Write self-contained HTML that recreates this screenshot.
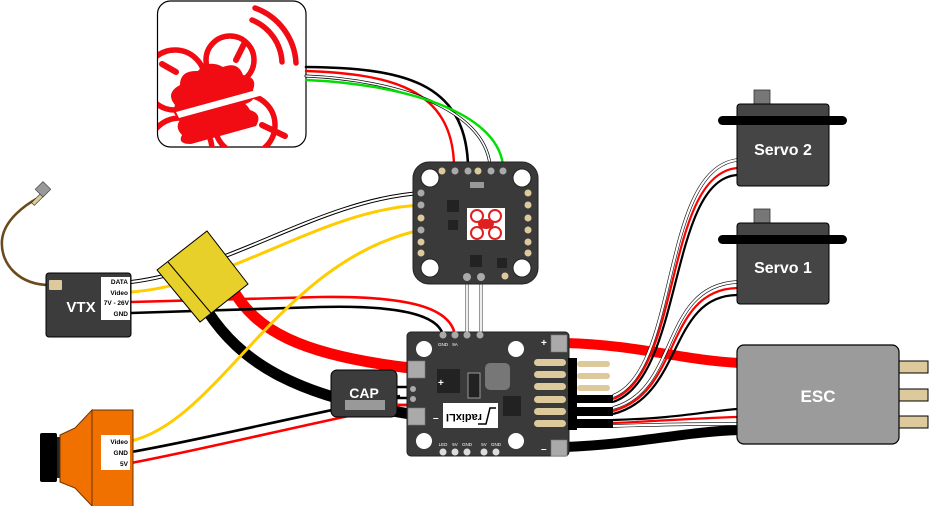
<!DOCTYPE html>
<html><head><meta charset="utf-8"><style>
html,body{margin:0;padding:0;background:#fff;}
svg{display:block;font-family:"Liberation Sans",sans-serif;}
</style></head><body>
<svg width="929" height="506" viewBox="0 0 929 506" xmlns="http://www.w3.org/2000/svg">
<defs>
<clipPath id="lc"><rect x="158" y="1" width="148" height="146" rx="12"/></clipPath>
</defs>
<rect width="929" height="506" fill="#fff"/>

<!-- Logo box -->
<rect x="157.5" y="1" width="148.5" height="146" rx="13" fill="#fff" stroke="#000" stroke-width="1.2"/>
<g clip-path="url(#lc)" fill="none" stroke="#f00c12" stroke-width="5.5" stroke-linecap="round">
  <path d="M255 8 A62 62 0 0 1 296 63"/>
  <path d="M252 20 A48 48 0 0 1 282 62"/>
  <circle cx="230" cy="60" r="24"/>
  <circle cx="175" cy="80" r="30"/>
  <circle cx="245" cy="125" r="30"/>
  <circle cx="180" cy="150" r="32"/>
  <path d="M245 42 L236 60 M176 72 L162 64 M262 125 L285 136" stroke-width="6"/>
</g>
<g clip-path="url(#lc)" fill="#f00c12">
  <path d="M175 105 q-10 -12 5 -20 q0 -15 18 -14 q10 -12 25 -4 q15 -6 20 8 q15 2 10 15 q5 10 -8 14 l-60 14 q-15 0 -10 -13z"/>
  <path d="M182 135 q-10 -10 3 -20 q3 -12 18 -10 q10 -10 25 -3 q15 -5 22 8 q13 4 6 16 l-65 18 q-14 0 -9 -9z"/>
  <path d="M176 112 l95 -26 l3 6 l-95 26z" fill="#fff"/>
</g>

<!-- Top wires logo -> FC -->
<g fill="none" stroke-linecap="round">
  <path d="M306 67 C400 68 465 80 468 165" stroke="#000" stroke-width="2.6"/>
  <path d="M306 71 C390 74 452 88 454 165" stroke="#f00" stroke-width="2.4"/>
  <path d="M306 76 C400 80 484 110 490 165" stroke="#000" stroke-width="3"/>
  <path d="M306 76 C400 80 484 110 490 165" stroke="#fff" stroke-width="1.6"/>
  <path d="M306 80 C400 84 496 110 503 165" stroke="#00dd00" stroke-width="2.4"/>
</g>

<!-- thick power wires -->
<g fill="none" stroke-linecap="butt">
  <path d="M232 288 C255 330 300 355 410 368" stroke="#f00" stroke-width="11"/>
  <path d="M208 312 C240 360 290 395 410 414" stroke="#000" stroke-width="11"/>
  <path d="M565 343 C640 345 680 360 740 363" stroke="#f00" stroke-width="10"/>
  <path d="M565 447 C640 444 680 432 740 430" stroke="#000" stroke-width="10"/>
</g>

<!-- VTX thin wires -->
<g fill="none">
  <path d="M131 282 C230 270 320 200 421 193" stroke="#000" stroke-width="4"/>
  <path d="M131 282 C230 270 320 200 421 193" stroke="#fff" stroke-width="2"/>
  <path d="M131 292 C230 285 320 210 421 205" stroke="#ffcc00" stroke-width="3"/>
  <path d="M131 302 L320 297 C400 296 450 305 455 335" stroke="#f00" stroke-width="2.6"/>
  <path d="M131 313 L320 307 C400 305 438 315 443 335" stroke="#000" stroke-width="2.6"/>
  <path d="M131 441 C220 420 280 260 421 230" stroke="#ffcc00" stroke-width="3"/>
  <path d="M131 452 C200 440 280 420 400 396" stroke="#000" stroke-width="2.6"/>
  <path d="M131 463 C200 450 280 430 400 405" stroke="#f00" stroke-width="2.6"/>
  <path d="M467 277 L467 334 M481 277 L481 334" stroke="#555" stroke-width="3.2"/>
  <path d="M467 277 L467 334 M481 277 L481 334" stroke="#fff" stroke-width="1.8"/>
</g>

<!-- Filter (yellow) -->
<polygon points="157,270 207,231 248,284 200,322" fill="#e8d02a" stroke="#000" stroke-width="1"/>
<line x1="168" y1="262" x2="211" y2="313" stroke="#000" stroke-width="1"/>

<!-- VTX antenna -->
<path d="M50 285 C20 285 0 265 2 240 C4 220 25 205 38 198" fill="none" stroke="#6b4a1c" stroke-width="2.6"/>
<rect x="30" y="195" width="20" height="4" fill="#dcc99c" stroke="#333" stroke-width="0.6" transform="rotate(-45 40 197)"/>
<rect x="38" y="184" width="11" height="11" fill="#999" stroke="#333" stroke-width="0.6" transform="rotate(-45 43 190)"/>
<rect x="46" y="273" width="85" height="64" rx="3" fill="#3c3c3c" stroke="#000" stroke-width="1"/>
<rect x="49" y="280" width="13" height="10" rx="1" fill="#dcc99c"/>
<text x="81" y="312" fill="#fff" font-size="15" font-weight="bold" text-anchor="middle">VTX</text>
<rect x="101" y="277" width="29" height="43" fill="#fff"/>
<g font-size="6.5" font-weight="bold" text-anchor="end" fill="#000">
<text x="128" y="284">DATA</text><text x="128" y="295">Video</text><text x="129" y="305">7V - 26V</text><text x="128" y="316">GND</text>
</g>

<!-- Camera -->
<rect x="40" y="433" width="17" height="49" rx="2" fill="#000"/>
<rect x="57" y="437" width="4" height="41" fill="#222"/>
<path d="M60 435 L75 428 L92 410 L92 506 L75 488 L60 482 Z" fill="#f07000" stroke="#6b3500" stroke-width="1"/>
<rect x="92" y="410" width="41" height="97" fill="#f07000" stroke="#6b3500" stroke-width="1"/>
<rect x="101" y="435" width="29" height="35" fill="#fff"/>
<g font-size="6.5" font-weight="bold" text-anchor="end" fill="#000">
<text x="128" y="444">Video</text><text x="128" y="455">GND</text><text x="128" y="466">5V</text>
</g>

<!-- CAP -->
<rect x="331" y="370" width="66" height="47" rx="6" fill="#3c3c3c" stroke="#000" stroke-width="1"/>
<text x="364" y="398" fill="#fff" font-size="14" font-weight="bold" text-anchor="middle">CAP</text>
<rect x="345" y="400" width="40" height="10" fill="#999"/>
<path d="M397 387 L407 387 M397 398 L414 398 M397 405 L414 405" stroke="#000" stroke-width="2.5"/>
<path d="M397 405 L414 405" stroke="#f00" stroke-width="2.5"/>

<!-- FC board -->
<g>
<rect x="413" y="162" width="125" height="122" rx="16" fill="#3a3a3a" stroke="#222"/>
<g fill="#fff" stroke="#222"><circle cx="430" cy="178" r="9"/><circle cx="522" cy="178" r="9"/><circle cx="430" cy="268" r="9"/><circle cx="522" cy="268" r="9"/></g>
<g fill="#dcc99c"><circle cx="442" cy="171" r="3.5"/><circle cx="478" cy="171" r="3.5"/><circle cx="528" cy="193" r="3.5"/><circle cx="528" cy="205" r="3.5"/><circle cx="528" cy="218" r="3.5"/><circle cx="528" cy="230" r="3.5"/><circle cx="528" cy="242" r="3.5"/><circle cx="528" cy="253" r="3.5"/><circle cx="421" cy="218" r="3.5"/><circle cx="421" cy="242" r="3.5"/><circle cx="421" cy="253" r="3.5"/><circle cx="505" cy="276" r="3.5"/></g>
<g fill="#aaa"><circle cx="455" cy="171" r="3.5"/><circle cx="468" cy="171" r="3.5"/><circle cx="491" cy="171" r="3.5"/><circle cx="503" cy="171" r="3.5"/><circle cx="421" cy="193" r="3.5"/><circle cx="421" cy="205" r="3.5"/><circle cx="421" cy="230" r="3.5"/><circle cx="467" cy="277" r="4"/><circle cx="481" cy="277" r="4"/></g>
<rect x="470" y="182" width="14" height="6" fill="#999"/>
<rect x="447" y="200" width="12" height="12" fill="#222"/>
<rect x="448" y="220" width="10" height="10" fill="#222"/>
<rect x="470" y="255" width="12" height="12" fill="#222"/>
<rect x="497" y="258" width="10" height="10" fill="#222"/>
<rect x="467" y="208" width="38" height="32" fill="#fff"/>
<g fill="none" stroke="#e02020" stroke-width="2"><circle cx="477" cy="216" r="6"/><circle cx="495" cy="216" r="6"/><circle cx="477" cy="233" r="6"/><circle cx="495" cy="233" r="6"/></g>
<ellipse cx="486" cy="224" rx="8" ry="5" fill="#e02020"/>
</g>

<!-- PDB board -->
<g>
<rect x="407" y="332" width="162" height="124" rx="4" fill="#3a3a3a" stroke="#222"/>
<g fill="#fff"><circle cx="424" cy="349" r="8"/><circle cx="516" cy="349" r="8"/><circle cx="424" cy="441" r="8"/><circle cx="516" cy="441" r="8"/></g>
<g fill="#aaa" stroke="#777" stroke-width="0.6"><rect x="408" y="361" width="17" height="17"/><rect x="408" y="408" width="17" height="17"/><rect x="551" y="335" width="16" height="17"/><rect x="551" y="440" width="16" height="16"/></g>
<g fill="#aaa"><circle cx="443" cy="335" r="3.5"/><circle cx="455" cy="335" r="3.5"/><circle cx="467" cy="335" r="3.5"/><circle cx="480" cy="335" r="3.5"/><circle cx="413" cy="389" r="3"/><circle cx="413" cy="399" r="3"/></g>
<g fill="#ddd"><circle cx="443" cy="452" r="3.5"/><circle cx="455" cy="452" r="3.5"/><circle cx="467" cy="452" r="3.5"/><circle cx="484" cy="452" r="3.5"/><circle cx="496" cy="452" r="3.5"/></g>
<g font-size="4.5" fill="#fff" text-anchor="middle"><text x="443" y="446">LED</text><text x="455" y="446">5V</text><text x="467" y="446">GND</text><text x="484" y="446">5V</text><text x="496" y="446">GND</text>
<text x="443" y="346">GND</text><text x="455" y="346">9A</text></g>
<g fill="#dcc99c"><rect x="534" y="359" width="32" height="7" rx="3.5"/><rect x="534" y="371" width="32" height="7" rx="3.5"/><rect x="534" y="383" width="32" height="7" rx="3.5"/><rect x="534" y="396" width="32" height="7" rx="3.5"/><rect x="534" y="408" width="32" height="7" rx="3.5"/><rect x="534" y="420" width="32" height="7" rx="3.5"/></g>
<rect x="437" y="369" width="23" height="24" fill="#222"/>
<rect x="468" y="373" width="12" height="25" fill="#222" stroke="#999"/>
<rect x="485" y="363" width="25" height="27" rx="5" fill="#777"/>
<rect x="503" y="396" width="18" height="20" fill="#222"/>
<rect x="443" y="403" width="55" height="25" fill="#fff"/>
<text x="464" y="422" font-size="11" font-weight="bold" fill="#000" text-anchor="middle" transform="rotate(180 464 418)">radixLI</text>
<path d="M478 424 L486 424 L490 408 L496 408" fill="none" stroke="#000" stroke-width="1.5"/>
<text x="438" y="386" fill="#fff" font-size="10" font-weight="bold">+</text>
<text x="433" y="421" fill="#fff" font-size="10" font-weight="bold">–</text>
<text x="541" y="346" fill="#fff" font-size="10" font-weight="bold">+</text>
<text x="541" y="452" fill="#fff" font-size="10" font-weight="bold">–</text>
</g>

<!-- header pins right -->
<rect x="568" y="358" width="9" height="72" fill="#000"/>
<g fill="#dcc99c"><rect x="577" y="361" width="33" height="6" rx="3"/><rect x="577" y="373" width="33" height="6" rx="3"/><rect x="577" y="385" width="33" height="6" rx="3"/></g>

<!-- servo/esc wires -->
<g fill="none" stroke-width="2.2">
  <path d="M613 396 C680 370 660 170 737 160" stroke="#000" stroke-width="3.4"/><path d="M613 396 C680 370 660 170 737 160" stroke="#fff"/>
  <path d="M613 399 C682 374 664 175 737 168" stroke="#f00"/>
  <path d="M613 402 C684 378 668 180 737 175" stroke="#000"/>
  <path d="M613 408 C680 390 660 286 737 282" stroke="#000" stroke-width="3.4"/><path d="M613 408 C680 390 660 286 737 282" stroke="#fff"/>
  <path d="M613 411 C682 393 664 290 737 288" stroke="#f00"/>
  <path d="M613 414 C684 396 668 296 737 295" stroke="#000"/>
  <path d="M613 420 C680 418 700 412 737 409" stroke="#000"/>
  <path d="M613 423 C680 420 700 418 737 417" stroke="#f00"/>
  <path d="M613 426 C680 424 700 424 737 424" stroke="#000" stroke-width="3.4"/><path d="M613 426 C680 424 700 424 737 424" stroke="#fff"/>
</g>
<g fill="#000"><rect x="577" y="395" width="36" height="8"/><rect x="577" y="407" width="36" height="9"/><rect x="577" y="419" width="36" height="9"/></g>

<!-- Servos -->
<g>
<rect x="754" y="90" width="16" height="14" fill="#777" stroke="#333" stroke-width="0.8"/>
<rect x="737" y="104" width="92" height="82" rx="3" fill="#454545" stroke="#000"/>
<rect x="718" y="116" width="129" height="9" rx="4.5" fill="#000"/>
<text x="783" y="155" fill="#fff" font-size="16" font-weight="bold" text-anchor="middle">Servo 2</text>
<rect x="754" y="209" width="16" height="14" fill="#777" stroke="#333" stroke-width="0.8"/>
<rect x="737" y="223" width="92" height="81" rx="3" fill="#454545" stroke="#000"/>
<rect x="718" y="235" width="129" height="9" rx="4.5" fill="#000"/>
<text x="783" y="273" fill="#fff" font-size="16" font-weight="bold" text-anchor="middle">Servo 1</text>
</g>

<!-- ESC -->
<g fill="#dcc99c" stroke="#000" stroke-width="1"><rect x="899" y="361" width="29" height="12"/><rect x="899" y="389" width="29" height="12"/><rect x="899" y="416" width="29" height="12"/></g>
<rect x="737" y="345" width="162" height="99" rx="7" fill="#9b9b9b" stroke="#000" stroke-width="1.2"/>
<text x="818" y="402" fill="#fff" font-size="17" font-weight="bold" text-anchor="middle">ESC</text>
</svg>
</body></html>
